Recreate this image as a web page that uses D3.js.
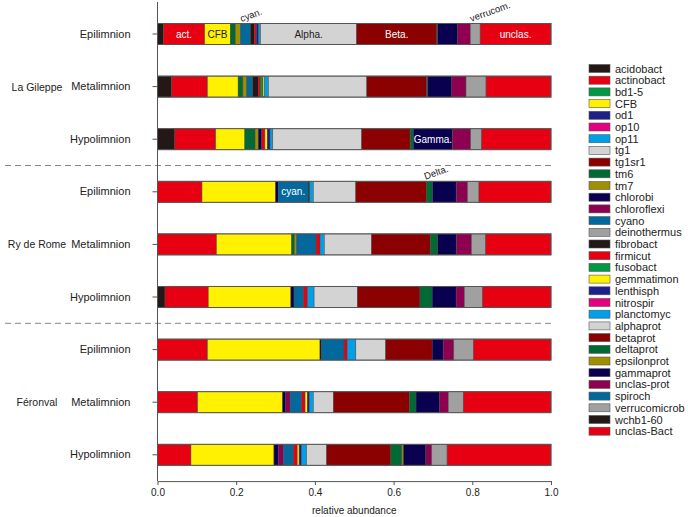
<!DOCTYPE html>
<html lang="en">
<head>
<meta charset="UTF-8">
<title>Relative abundance</title>
<style>
  body { margin: 0; background: #fff; }
  svg { display: block; }
  text { font-family: "Liberation Sans", Arial, sans-serif; }
</style>
</head>
<body>
<svg></svg>
<script src="https://d3js.org/d3.v7.min.js"></script>
<script>
const width = 688, height = 517;

// taxa, in stacking / legend order
const taxa = ["acidobact", "actinobact", "bd1-5", "CFB", "od1", "op10", "op11", "tg1", "tg1sr1",
  "tm6", "tm7", "chlorobi", "chloroflexi", "cyano", "deinothermus", "fibrobact", "firmicut",
  "fusobact", "gemmatimon", "lenthisph", "nitrospir", "planctomyc", "alphaprot", "betaprot",
  "deltaprot", "epsilonprot", "gammaprot", "unclas-prot", "spiroch", "verrucomicrob",
  "wchb1-60", "unclas-Bact"];

// palette of 15, repeated along the legend
const palette = ["#231815", "#e60012", "#009944", "#fff100", "#1d2088", "#e4007f", "#00a0e9",
  "#d3d3d3", "#8b0000", "#006934", "#a08f00", "#0a0050", "#8e0050", "#03699c", "#a0a0a0"];

const lakes = ["La Gileppe", "Ry de Rome", "Féronval"];
const layers = ["Epilimnion", "Metalimnion", "Hypolimnion"];

// percentages per sample (only non-zero taxa)
const samples = [
  { lake: "La Gileppe", layer: "Epilimnion", values: { acidobact: 1.5, actinobact: 10.5, CFB: 6.5, tm6: 1.3, tm7: 1.3, cyano: 2.5, fibrobact: 1.0, firmicut: 0.5, lenthisph: 0.6, planctomyc: 0.5, alphaprot: 24.4, betaprot: 20.4, deltaprot: 0.2, gammaprot: 5.1, "unclas-prot": 3.2, verrucomicrob: 2.5, "unclas-Bact": 18.0 } },
  { lake: "La Gileppe", layer: "Metalimnion", values: { acidobact: 3.6, actinobact: 9.1, CFB: 7.8, tm6: 1.2, tm7: 1.0, cyano: 1.5, fibrobact: 1.4, firmicut: 0.6, fusobact: 0.6, gemmatimon: 0.4, planctomyc: 1.0, alphaprot: 25.0, betaprot: 15.2, deltaprot: 0.3, gammaprot: 6.1, "unclas-prot": 3.6, verrucomicrob: 5.1, "unclas-Bact": 16.5 } },
  { lake: "La Gileppe", layer: "Hypolimnion", values: { acidobact: 4.4, actinobact: 10.4, CFB: 7.4, tm6: 2.6, tm7: 0.8, chlorobi: 0.9, firmicut: 0.8, gemmatimon: 0.6, lenthisph: 0.7, planctomyc: 0.7, alphaprot: 22.6, betaprot: 12.3, deltaprot: 0.8, gammaprot: 10.0, "unclas-prot": 4.6, verrucomicrob: 2.8, "unclas-Bact": 17.6 } },
  { lake: "Ry de Rome", layer: "Epilimnion", values: { actinobact: 11.3, CFB: 18.7, chlorobi: 0.7, cyano: 7.6, fibrobact: 0.4, planctomyc: 0.9, alphaprot: 10.8, betaprot: 18.0, deltaprot: 1.5, gammaprot: 6.1, "unclas-prot": 2.8, verrucomicrob: 2.9, "unclas-Bact": 18.3 } },
  { lake: "Ry de Rome", layer: "Metalimnion", values: { actinobact: 15.0, CFB: 19.1, tm6: 0.7, tm7: 0.6, cyano: 4.9, firmicut: 1.0, planctomyc: 1.1, alphaprot: 12.0, betaprot: 14.9, deltaprot: 1.9, gammaprot: 4.8, "unclas-prot": 3.8, verrucomicrob: 3.6, "unclas-Bact": 16.6 } },
  { lake: "Ry de Rome", layer: "Hypolimnion", values: { acidobact: 1.9, actinobact: 11.0, CFB: 21.0, chlorobi: 0.8, cyano: 2.4, firmicut: 1.0, planctomyc: 1.7, alphaprot: 11.0, betaprot: 15.9, deltaprot: 3.1, gammaprot: 6.1, "unclas-prot": 2.1, verrucomicrob: 4.6, "unclas-Bact": 17.4 } },
  { lake: "Féronval", layer: "Epilimnion", values: { actinobact: 12.7, CFB: 28.6, chlorobi: 0.4, cyano: 5.7, firmicut: 0.8, planctomyc: 2.2, alphaprot: 7.6, betaprot: 11.8, gammaprot: 2.8, "unclas-prot": 2.7, verrucomicrob: 5.0, "unclas-Bact": 19.7 } },
  { lake: "Féronval", layer: "Metalimnion", values: { actinobact: 10.2, CFB: 21.6, chlorobi: 0.8, chloroflexi: 1.1, cyano: 2.9, firmicut: 0.9, gemmatimon: 0.6, lenthisph: 0.5, planctomyc: 1.0, alphaprot: 5.1, betaprot: 19.3, deltaprot: 1.7, gammaprot: 5.9, "unclas-prot": 2.3, verrucomicrob: 3.8, "unclas-Bact": 22.3 } },
  { lake: "Féronval", layer: "Hypolimnion", values: { actinobact: 8.5, CFB: 21.1, chlorobi: 1.1, chloroflexi: 1.3, cyano: 2.5, firmicut: 1.0, gemmatimon: 0.5, lenthisph: 0.6, planctomyc: 1.3, alphaprot: 5.1, betaprot: 16.3, deltaprot: 2.8, epsilonprot: 0.4, gammaprot: 5.7, "unclas-prot": 1.5, verrucomicrob: 3.9, "unclas-Bact": 26.4 } }
];

// labels written on the bars: sample index, taxon, text, inside or above
const annotations = [
  { row: 0, taxon: "actinobact", text: "act.", pos: "in", fill: "#fff" },
  { row: 0, taxon: "CFB", text: "CFB", pos: "in", fill: "#222" },
  { row: 0, taxon: "cyano", text: "cyan.", pos: "above" },
  { row: 0, taxon: "alphaprot", text: "Alpha.", pos: "in", fill: "#222" },
  { row: 0, taxon: "betaprot", text: "Beta.", pos: "in", fill: "#fff" },
  { row: 0, taxon: "verrucomicrob", text: "verrucom.", pos: "above" },
  { row: 0, taxon: "unclas-Bact", text: "unclas.", pos: "in", fill: "#fff" },
  { row: 2, taxon: "gammaprot", text: "Gamma.", pos: "in", fill: "#fff" },
  { row: 3, taxon: "cyano", text: "cyan.", pos: "in", fill: "#fff" },
  { row: 3, taxon: "deltaprot", text: "Delta.", pos: "above" }
];

const color = d3.scaleOrdinal().domain(taxa).range(taxa.map((t, i) => palette[i % palette.length]));

const svg = d3.select("svg").attr("width", width).attr("height", height);

const x = d3.scaleLinear().domain([0, 1]).range([157.5, 551]);
const rowIds = samples.map((d, i) => i);
const y = d3.scaleBand().domain(rowIds).range([7.7, 481.1]).paddingInner(0.6).paddingOuter(0.3);

// stack the samples
const table = samples.map(s => {
  const row = {};
  taxa.forEach(t => row[t] = (s.values[t] || 0) / 100);
  return row;
});
const series = d3.stack().keys(taxa)(table);

// group separators
[3, 6].forEach(i => {
  const yy = (y(i - 1) + y.bandwidth() + y(i)) / 2;
  svg.append("line")
    .attr("x1", 5).attr("x2", 552)
    .attr("y1", yy).attr("y2", yy)
    .attr("stroke", "#888").attr("stroke-width", 1)
    .attr("stroke-dasharray", "6,4");
});

// bars
svg.append("g")
  .selectAll("g")
  .data(series)
  .join("g")
  .attr("fill", d => color(d.key))
  .selectAll("rect")
  .data(d => d.map((v, i) => ({ v, i })).filter(e => e.v[1] - e.v[0] > 0))
  .join("rect")
  .attr("x", e => x(e.v[0]))
  .attr("y", e => y(e.i))
  .attr("width", e => x(e.v[1]) - x(e.v[0]))
  .attr("height", y.bandwidth())
  .attr("stroke", "#4a4a4a")
  .attr("stroke-width", 0.5);

// outline of each bar
svg.append("g")
  .selectAll("rect")
  .data(rowIds)
  .join("rect")
  .attr("x", x(0))
  .attr("y", i => y(i))
  .attr("width", x(1) - x(0))
  .attr("height", y.bandwidth())
  .attr("fill", "none")
  .attr("stroke", "#555")
  .attr("stroke-width", 1);

// annotations
const seg = (row, taxon) => series.find(s => s.key === taxon)[row];
svg.append("g")
  .selectAll("text")
  .data(annotations)
  .join("text")
  .attr("font-size", d => d.pos === "in" ? 10 : 9.5)
  .attr("text-anchor", d => d.pos === "in" ? "middle" : "start")
  .attr("fill", d => d.fill || "#222")
  .attr("transform", d => {
    const s = seg(d.row, d.taxon);
    const cx = x((s[0] + s[1]) / 2);
    if (d.pos === "in") return `translate(${cx},${y(d.row) + y.bandwidth() / 2 + 3.5})`;
    return `translate(${cx - 4},${y(d.row) - 1.5}) rotate(-20)`;
  })
  .text(d => d.text);

// axes
svg.append("g")
  .attr("transform", `translate(0,${y.range()[1]})`)
  .call(d3.axisBottom(x).tickValues([0, 0.2, 0.4, 0.6, 0.8, 1]).tickFormat(d3.format(".1f")).tickSize(4).tickPadding(4).tickSizeOuter(0))
  .call(g => g.selectAll("text").attr("font-size", 10).attr("fill", "#222"))
  .call(g => g.selectAll("line, path").attr("stroke", "#555"));

svg.append("g")
  .attr("transform", `translate(${x(0)},0)`)
  .call(d3.axisLeft(y).tickFormat(i => samples[i].layer).tickSize(5).tickPadding(22).tickSizeOuter(0))
  .call(g => g.selectAll("text").attr("font-size", 11).attr("fill", "#222"))
  .call(g => g.selectAll("line, path").attr("stroke", "#555"))
  .call(g => g.select(".domain").attr("d", `M0,2V${y.range()[1]}`));

// lake labels
svg.append("g")
  .selectAll("text")
  .data(lakes)
  .join("text")
  .attr("x", 37)
  .attr("y", (d, k) => y(k * 3 + 1) + y.bandwidth() / 2 + 4)
  .attr("text-anchor", "middle")
  .attr("font-size", 10.5)
  .attr("fill", "#222")
  .text(d => d);

svg.append("text")
  .attr("x", (x(0) + x(1)) / 2)
  .attr("y", 514)
  .attr("text-anchor", "middle")
  .attr("font-size", 10)
  .attr("fill", "#222")
  .text("relative abundance");

// legend
const legend = svg.append("g")
  .selectAll("g")
  .data(taxa)
  .join("g")
  .attr("transform", (d, i) => `translate(589,${64.5 + i * 11.7})`);

legend.append("rect")
  .attr("width", 21).attr("height", 8)
  .attr("fill", d => color(d))
  .attr("stroke", "#555").attr("stroke-width", 0.6);

legend.append("text")
  .attr("x", 26).attr("y", 8)
  .attr("font-size", 11)
  .attr("fill", "#222")
  .text(d => d);
</script>
</body>
</html>
